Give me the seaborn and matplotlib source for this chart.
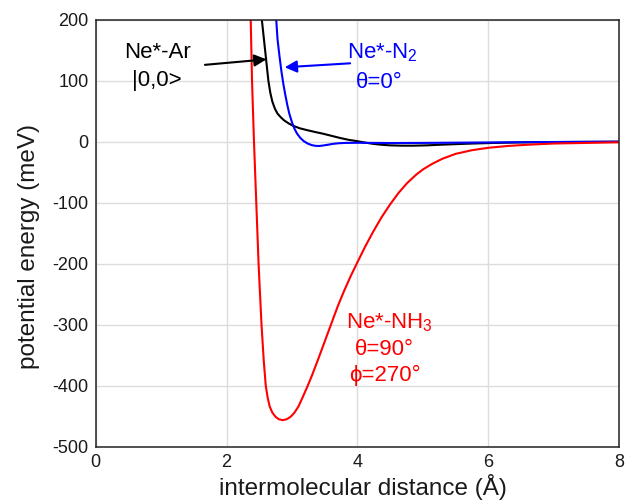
import matplotlib
matplotlib.use("Agg")
import matplotlib.pyplot as plt
import numpy as np
import pandas as pd
import seaborn as sns

# Potential energy curves (distance in Å, energy in meV)
ar_r = [2.52, 2.54, 2.57, 2.60, 2.62, 2.64, 2.67, 2.70, 2.74, 2.78, 2.83, 2.88,
        2.95, 3.02, 3.12, 3.23, 3.35, 3.48, 3.61, 3.74, 3.87, 3.99, 4.12, 4.24,
        4.37, 4.50, 4.68, 4.86, 5.06, 5.26, 5.50, 5.77, 6.10, 6.50, 7.00, 7.50, 8.00]
ar_e = [240, 200, 170, 140, 120, 100, 80, 66, 54, 46, 40, 35,
        30, 26, 22, 19, 16, 13, 9.5, 6, 3, 1, -1.5, -3.5,
        -5, -6, -6.5, -6.5, -6, -5, -4, -3, -2, -1.2, -0.6, -0.3, 0]

n2_r = [2.75, 2.76, 2.78, 2.81, 2.84, 2.87, 2.90, 2.93, 2.96, 3.00, 3.04, 3.08,
        3.13, 3.18, 3.24, 3.30, 3.36, 3.42, 3.48, 3.55, 3.63, 3.72, 3.82, 4.00,
        4.25, 4.50, 5.00, 5.50, 6.00, 7.00, 8.00]
n2_e = [230, 200, 168, 140, 115, 94, 76, 60, 46, 32, 21, 13,
        6, 1, -3, -5.5, -6.8, -7, -6.2, -5, -3.5, -2.5, -2, -1.8,
        -2, -2.2, -2, -1.6, -1.2, -0.5, 0]

nh3_r = [2.35, 2.37, 2.39, 2.42, 2.455, 2.49, 2.535, 2.57, 2.60, 2.63, 2.66, 2.70,
         2.75, 2.80, 2.86, 2.92, 2.98, 3.04, 3.10, 3.16, 3.23, 3.30, 3.40, 3.50,
         3.60, 3.70, 3.80, 3.90, 4.00, 4.12, 4.24, 4.37, 4.50, 4.63, 4.76, 4.90,
         5.01, 5.15, 5.30, 5.50, 5.75, 6.00, 6.30, 6.60, 7.00, 7.50, 8.00]
nh3_e = [260, 200, 100, 0, -100, -200, -300, -360, -400, -420, -434, -444,
         -451, -455, -456.5, -455, -451, -444, -434, -420, -403, -385, -357, -328,
         -299, -270, -244, -220, -198, -172, -148, -124, -103, -84, -68, -54,
         -45, -36, -28, -20, -14, -10, -7, -5, -3, -2, -1]

x_ticks = [0, 2, 4, 6, 8]
y_ticks = [-500, -400, -300, -200, -100, 0, 100, 200]

curves = pd.concat([
    pd.DataFrame({"r": ar_r, "E": ar_e, "system": "Ne*-Ar"}),
    pd.DataFrame({"r": n2_r, "E": n2_e, "system": "Ne*-N2"}),
    pd.DataFrame({"r": nh3_r, "E": nh3_e, "system": "Ne*-NH3"}),
], ignore_index=True)
colors = {"Ne*-Ar": "#000000", "Ne*-N2": "#0000ff", "Ne*-NH3": "#ff0000"}

sns.set_theme(style="whitegrid")
plt.rcParams["font.family"] = ["Liberation Sans", "DejaVu Sans"]
plt.rcParams["mathtext.fontset"] = "custom"
plt.rcParams["mathtext.rm"] = "Liberation Sans"
plt.rcParams["mathtext.it"] = "Liberation Sans:italic"

fig = plt.figure(figsize=(6.26, 5.0), dpi=100)
ax = fig.add_axes([0.1529, 0.1066, 0.8358, 0.854])

sns.lineplot(data=curves, x="r", y="E", hue="system", palette=colors,
             sort=False, estimator=None, legend=False, linewidth=1.5, ax=ax)

ax.set_xlim(0, 8)
ax.set_ylim(-500, 200)
ax.set_xticks(x_ticks)
ax.set_yticks(y_ticks)
ax.set_xticklabels([str(t) for t in x_ticks])
ax.set_yticklabels([str(t) for t in y_ticks])
ax.tick_params(axis="both", labelsize=13, length=0, pad=5, colors="#1a1a1a")
ax.grid(True, color="#dcdcdc", linewidth=1.0)
for s in ax.spines.values():
    s.set_visible(True)
    s.set_color("#222222")
    s.set_linewidth(1.1)

ax.set_xlabel("intermolecular distance (Å)", fontsize=17.5, color="#1a1a1a")
ax.xaxis.label.set_va("baseline")
ax.xaxis.set_label_coords(0.51, -0.113)
ax.set_ylabel("potential energy (meV)", fontsize=17.5, color="#1a1a1a")
ax.yaxis.set_label_coords(-0.107, 0.47)

# Curve labels
fs = 16
ax.text(0.94, 137, "Ne*-Ar", color="#000000", fontsize=fs, ha="center", va="baseline")
ax.text(0.94, 91, "|0,0>", color="#000000", fontsize=fs, ha="center", va="baseline")
ax.annotate("", xy=(2.61, 135), xytext=(1.67, 126),
            arrowprops=dict(arrowstyle="-|>", color="#000000", lw=1.5,
                            mutation_scale=18, shrinkA=0, shrinkB=0))

ax.text(4.39, 137, "Ne*-N$_2$", color="#0000ff", fontsize=fs, ha="center", va="baseline")
ax.text(4.33, 88, "θ=0°", color="#0000ff", fontsize=fs, ha="center", va="baseline")
ax.annotate("", xy=(2.89, 122), xytext=(3.89, 128.5),
            arrowprops=dict(arrowstyle="-|>", color="#0000ff", lw=1.5,
                            mutation_scale=18, shrinkA=0, shrinkB=0))

ax.text(4.49, -306, "Ne*-NH$_3$", color="#ff0000", fontsize=fs, ha="center", va="baseline")
ax.text(4.41, -350, "θ=90°", color="#ff0000", fontsize=fs, ha="center", va="baseline")
ax.text(4.42, -392, "ϕ=270°", color="#ff0000", fontsize=fs, ha="center", va="baseline")

fig.savefig("out.png", dpi=100)
